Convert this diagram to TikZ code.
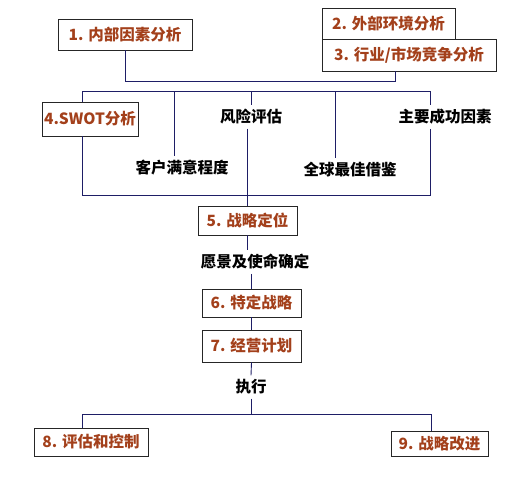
\documentclass[tikz,border=0pt]{standalone}
\usepackage{fontspec}
\setmainfont{Noto Sans CJK SC}
\definecolor{linkblue}{HTML}{1E1E66}
\definecolor{boxtext}{HTML}{A3401B}
\begin{document}
\begin{tikzpicture}[x=1pt,y=-1pt,line join=miter,
  every node/.style={font=\fontsize{15.5}{18}\selectfont\bfseries},
  stagebox/.style={draw=black!85,line width=0.8pt,text=boxtext,inner sep=0pt,minimum height=30pt},
  note/.style={inner sep=4pt,text=black},
  link/.style={draw=linkblue,line width=0.9pt}]
  \useasboundingbox (0,0) rectangle (522,479);
  % analysis stages
  \node[stagebox,minimum width=134pt,minimum height=31pt] (b1) at (125,34.5) {1. 内部因素分析};
  \node[stagebox,minimum width=133pt,minimum height=31pt] (b2) at (388.5,23.5) {2. 外部环境分析};
  \node[stagebox,minimum width=174pt,minimum height=32pt] (b3) at (409,55) {3. 行业/市场竞争分析};
  \node[stagebox,minimum width=96pt,minimum height=34pt] (b4) at (90,119) {4.SWOT分析};
  \node[note] (risk) at (251,117) {风险评估};
  \node[note] (cust) at (182,168) {客户满意程度};
  \node[note] (glob) at (350,170) {全球最佳借鉴};
  \node[note] (key) at (445,117) {主要成功因素};
  % strategy stages
  \node[stagebox,minimum width=99pt,minimum height=29pt] (b5) at (247.5,220.5) {5. 战略定位};
  \node[note] (vision) at (255,262) {愿景及使命确定};
  \node[stagebox,minimum width=99pt,minimum height=28pt] (b6) at (251.5,303) {6. 特定战略};
  \node[stagebox,minimum width=99pt,minimum height=32pt] (b7) at (251.5,346) {7. 经营计划};
  \node[note] (exec) at (251,387) {执行};
  \node[stagebox,minimum width=114pt,minimum height=28pt] (b8) at (91,442) {8. 评估和控制};
  \node[stagebox,minimum width=97pt,minimum height=25pt] (b9) at (439.5,443.5) {9. 战略改进};
  % junctions
  \coordinate (j1) at (395,81);
  \coordinate (tl) at (82,91);
  \coordinate (tr) at (430,91);
  \coordinate (bl) at (82,195);
  \coordinate (br) at (430,195);
  \coordinate (c1) at (174,91);
  \coordinate (c3) at (335,91);
  \coordinate (d8) at (82,414);
  \coordinate (d9) at (431,414);
  % connectors
  \draw[link] (b1.south) |- (j1) -- (j1 |- b3.south);
  \draw[link] (tl) -- (tr) -- (tr |- key.north);
  \draw[link] (tr |- key.south) -- (br) -- (bl) -- (tl |- b4.south);
  \draw[link] (tl) -- (tl |- b4.north);
  \draw[link] (c1) -- (c1 |- cust.north);
  \draw[link] (c3) -- (c3 |- glob.north);
  \draw[link] (tl -| risk.north) -- (risk.north);
  \draw[link] (risk.south -| b5.north) -- (b5.north);
  \draw[link] (b5.south) -- (b5.south |- vision.north);
  \draw[link] (vision.south -| b6.north) -- (b6.north);
  \draw[link] (b6.south) -- (b7.north);
  \draw[link] (b7.south) -- (exec.north);
  \draw[link] (exec.south) -- (exec.south |- d8);
  \draw[link] (d8 |- b8.north) -- (d8) -- (d9) -- (d9 |- b9.north);
\end{tikzpicture}
\end{document}
